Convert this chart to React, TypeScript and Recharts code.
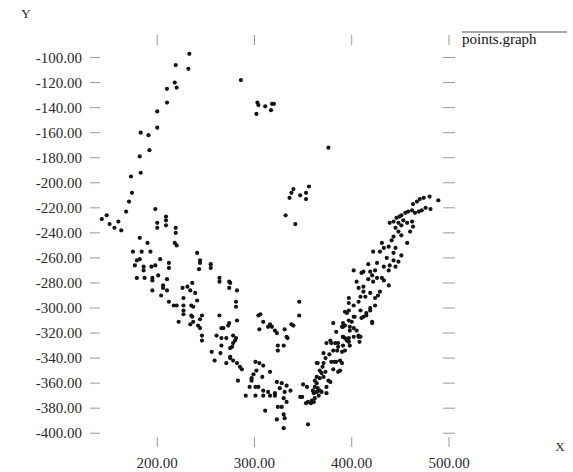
import React from 'react';
import { ScatterChart, Scatter, XAxis, YAxis } from 'recharts';

const W = 573;
const H = 472;
const PLOT_LEFT = 95;
const PLOT_RIGHT = 449;
const PLOT_TOP = 40;
const PLOT_BOTTOM = 442;

const xTicks = [200, 300, 400, 500];
const yTicks = [-100, -120, -140, -160, -180, -200, -220, -240, -260, -280, -300, -320, -340, -360, -380, -400];
const xDomain = [136, 500];
const yDomain = [-407, -86];
const seriesName = 'points.graph';

const arcPoints = [
  [233, -97], [219, -106], [232, -109], [218, -120], [220, -124], [210, -125], [210, -136], [200, -143],
  [200, -156], [183, -160], [191, -162], [192, -174], [182, -179], [183, -192], [173, -195], [174, -208],
];

const farLeft = [
  [143, -229], [148, -226], [151, -233], [156, -236], [160, -231], [163, -238], [168, -223], [171, -215],
];

const outliers = [
  [286, -118], [376, -172],
  [303, -136], [304, -138], [311, -139], [318, -137], [320, -137], [317, -142], [302, -145],
  [356, -203], [340, -205], [338, -208], [336, -212], [347, -210], [353, -208], [353, -213], [332, -226], [342, -233],
];

const leftBand = [
  [198, -221], [209, -227], [209, -230], [209, -234], [200, -232], [200, -236], [219, -236], [219, -240], [182, -244],
  [190, -248], [218, -248], [220, -250], [184, -255], [193, -255], [175, -255], [241, -256], [244, -262], [244, -264],
  [203, -261], [255, -265], [255, -268], [243, -269], [212, -264], [212, -268], [186, -267], [186, -270], [182, -261],
  [179, -262], [177, -266], [194, -267], [198, -266], [187, -276], [179, -276], [195, -276], [195, -278], [201, -274],
  [210, -277], [264, -276], [264, -279], [274, -279], [274, -284], [275, -280], [282, -286], [206, -282], [206, -284],
  [210, -286], [195, -286], [204, -290], [226, -284], [231, -283], [236, -280], [234, -286], [239, -288], [227, -292],
  [241, -294], [212, -295], [217, -298], [220, -298], [227, -298], [227, -302], [227, -305], [235, -298], [237, -299],
  [281, -295], [281, -299], [264, -306], [235, -306], [236, -307], [246, -306], [244, -309], [222, -311], [234, -313],
  [237, -311], [242, -314], [244, -316], [266, -316], [273, -314], [274, -312], [282, -310], [268, -316],
];

const centerBand = [
  [278, -322], [281, -324], [280, -326], [278, -328], [277, -331], [275, -340], [278, -342], [282, -344], [285, -347],
  [287, -349], [261, -322], [266, -324], [271, -324], [275, -332], [266, -330], [256, -335], [265, -336], [275, -339],
  [259, -342], [271, -344], [246, -322], [246, -326],
  [346, -295], [346, -306], [306, -305], [309, -311], [316, -313], [318, -315], [314, -315], [305, -317], [321, -318],
  [323, -320], [331, -317], [338, -313], [334, -324], [324, -330], [330, -330], [324, -334], [333, -323], [304, -306],
  [340, -314],
];

const bottomCluster = [
  [301, -343], [305, -344], [309, -346], [302, -350], [299, -353], [297, -356], [308, -355], [316, -351], [283, -358],
  [301, -363], [304, -363], [295, -363], [323, -359], [328, -360], [333, -362], [337, -366], [326, -364], [331, -367],
  [350, -361], [354, -363], [309, -366], [291, -370], [301, -370], [309, -370], [316, -370], [321, -370], [330, -372],
  [347, -371], [321, -368], [333, -375], [324, -379], [328, -379], [330, -385], [331, -388], [323, -389], [330, -396],
  [355, -393], [311, -382], [297, -358], [314, -367],
];

const rightArmLower = [
  [355, -375], [353, -376], [359, -374], [362, -372], [361, -368], [364, -367], [366, -370], [367, -366], [362, -363],
  [364, -360], [362, -358], [367, -356], [371, -355], [369, -352], [367, -350], [373, -351], [376, -358], [374, -363],
  [374, -368], [365, -344], [371, -344], [373, -340], [371, -336], [379, -343], [381, -349], [388, -350], [390, -344],
  [381, -334], [383, -328], [386, -328], [390, -335], [393, -324], [397, -327], [398, -330], [402, -323], [407, -322],
  [408, -327], [378, -326], [374, -328], [381, -312], [384, -319], [391, -312], [397, -310], [397, -296], [395, -304],
  [391, -330], [395, -326], [364, -344], [384, -343], [388, -342], [364, -355], [365, -364], [360, -366], [369, -367],
  [358, -376], [361, -375], [349, -371], [379, -328], [386, -331], [385, -334], [393, -334], [409, -323], [382, -343],
  [386, -351], [378, -359], [391, -323], [398, -315], [403, -307], [412, -307], [415, -304], [421, -311], [419, -302],
  [391, -315], [370, -347], [377, -337],
];

const rightArmUpper = [
  [480, -211], [489, -214], [474, -212], [470, -213], [467, -215], [463, -217], [476, -220], [481, -221], [472, -222],
  [469, -223], [465, -224], [462, -222], [458, -223], [455, -224], [451, -226], [449, -227], [446, -228], [443, -231],
  [439, -232], [453, -230], [457, -232], [462, -231], [448, -232], [451, -234], [445, -236], [463, -235], [460, -239],
  [448, -239], [451, -242], [443, -243], [441, -246], [431, -248], [457, -248], [438, -251], [433, -252], [422, -255],
  [429, -255], [445, -252], [443, -256], [451, -258], [436, -260], [443, -262], [448, -263], [426, -264], [417, -265],
  [439, -266], [433, -267], [445, -267], [438, -270], [424, -270], [419, -271], [412, -271], [402, -270], [410, -272],
  [421, -274], [426, -276], [431, -276], [433, -278], [417, -277], [422, -279], [405, -279], [438, -282], [412, -283],
  [407, -284], [429, -287], [427, -290], [424, -292], [419, -288], [412, -287], [409, -291], [414, -291], [397, -292],
  [407, -295], [402, -298], [424, -298], [409, -302], [397, -302], [393, -303], [419, -300], [415, -306], [410, -308],
  [402, -307], [421, -312], [400, -311], [393, -314], [390, -315], [402, -316], [398, -318], [405, -318], [391, -323],
  [397, -324], [407, -323],
];

const allGroups = [arcPoints, farLeft, outliers, leftBand, centerBand, bottomCluster, rightArmLower, rightArmUpper];
const data = allGroups.flat().map(([x, y]) => ({ x, y }));

const FONT = 'Liberation Serif';
const TICK_COLOR = '#9a9a9a';
const TEXT_COLOR = '#2a2a2a';

const XTick = (props: any) => {
  const { x, y, payload } = props;
  return (
    <g>
      <line x1={x} x2={x} y1={y - 5} y2={y + 5} stroke={TICK_COLOR} strokeWidth={1} />
      <line x1={x} x2={x} y1={PLOT_TOP - 5} y2={PLOT_TOP + 5} stroke={TICK_COLOR} strokeWidth={1} />
      <text x={x} y={y + 26} textAnchor="middle" style={{ fontFamily: FONT }} fontSize={15} fill={TEXT_COLOR}>
        {Number(payload.value).toFixed(2)}
      </text>
    </g>
  );
};

const YTick = (props: any) => {
  const { x, y, payload } = props;
  return (
    <g>
      <line x1={x - 5} x2={x + 5} y1={y} y2={y} stroke={TICK_COLOR} strokeWidth={1} />
      <line x1={PLOT_RIGHT - 6} x2={PLOT_RIGHT + 6} y1={y} y2={y} stroke={TICK_COLOR} strokeWidth={1} />
      <text x={x - 13} y={y + 5} textAnchor="end" style={{ fontFamily: FONT }} fontSize={15} fill={TEXT_COLOR}>
        {Number(payload.value).toFixed(2)}
      </text>
    </g>
  );
};

const Dot = (props: any) => <circle cx={props.cx} cy={props.cy} r={2.1} fill="#151515" />;

export default function App() {
  return (
    <div style={{ position: 'absolute', left: 0, top: 0, width: W, height: H, background: '#fff', fontFamily: FONT }}>
      <ScatterChart
        width={W}
        height={H}
        margin={{ top: PLOT_TOP, right: W - PLOT_RIGHT, bottom: 0, left: 0 }}
      >
        <XAxis
          type="number"
          dataKey="x"
          domain={xDomain}
          ticks={xTicks}
          allowDataOverflow
          axisLine={false}
          tickLine={false}
          tickSize={0}
          tickMargin={0}
          height={H - PLOT_BOTTOM}
          tick={<XTick />}
          interval={0}
        />
        <YAxis
          type="number"
          dataKey="y"
          domain={yDomain}
          ticks={yTicks}
          allowDataOverflow
          axisLine={false}
          tickLine={false}
          tickSize={0}
          tickMargin={0}
          width={PLOT_LEFT}
          tick={<YTick />}
          interval={0}
        />
        <Scatter name={seriesName} data={data} shape={<Dot />} isAnimationActive={false} />
      </ScatterChart>
      <svg
        width={W}
        height={H}
        style={{ position: 'absolute', left: 0, top: 0, pointerEvents: 'none', fontFamily: FONT }}
      >
        <text x={26} y={18} textAnchor="middle" fontSize={13} fill={TEXT_COLOR}>Y</text>
        <text x={560} y={451} textAnchor="middle" fontSize={13} fill={TEXT_COLOR}>X</text>
        <line x1={462} x2={567} y1={32} y2={32} stroke="#8a8a8a" strokeWidth={1.5} />
        <text x={462} y={44} fontSize={15} fill="#111">{seriesName}</text>
      </svg>
    </div>
  );
}
